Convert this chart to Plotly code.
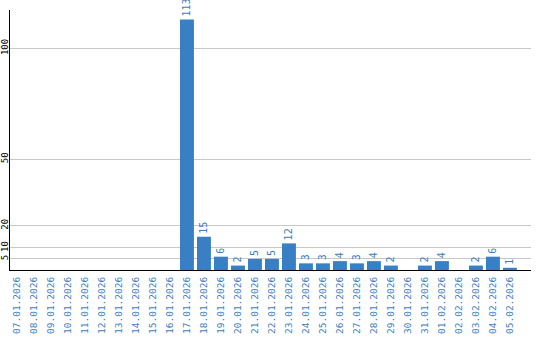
import plotly.graph_objects as go

dates = ["07.01.2026", "08.01.2026", "09.01.2026", "10.01.2026", "11.01.2026",
         "12.01.2026", "13.01.2026", "14.01.2026", "15.01.2026", "16.01.2026",
         "17.01.2026", "18.01.2026", "19.01.2026", "20.01.2026", "21.01.2026",
         "22.01.2026", "23.01.2026", "24.01.2026", "25.01.2026", "26.01.2026",
         "27.01.2026", "28.01.2026", "29.01.2026", "30.01.2026", "31.01.2026",
         "01.02.2026", "02.02.2026", "03.02.2026", "04.02.2026", "05.02.2026"]
counts = [0, 0, 0, 0, 0, 0, 0, 0, 0, 0,
          113, 15, 6, 2, 5, 5, 12, 3, 3, 4,
          3, 4, 2, 0, 2, 4, 0, 2, 6, 1]
y_ticks = [5, 10, 20, 50, 100]

BLUE = "#3a7ec4"
FONT = "DejaVu Sans Mono"

labels = [str(v) if v else "" for v in counts]

fig = go.Figure(go.Bar(
    x=list(range(len(dates))), y=counts,
    text=labels, textposition="outside", textangle=-90,
    textfont=dict(family=FONT, size=10, color=BLUE),
    marker=dict(color=BLUE, line=dict(width=0)),
    width=0.82, cliponaxis=False, constraintext="none",
))

fig.update_layout(
    width=540, height=340,
    margin=dict(l=10, r=9, t=10, b=70),
    paper_bgcolor="white", plot_bgcolor="white",
    showlegend=False,
    uniformtext=dict(mode=False),
)
fig.update_xaxes(
    range=[-0.41, 30.24],
    tickmode="array", tickvals=list(range(len(dates))), ticktext=dates,
    tickangle=-90, tickfont=dict(family=FONT, size=9.5, color=BLUE),
    showgrid=False, showline=True, linecolor="black", linewidth=1,
    ticks="", automargin=False, zeroline=False, ticklabelstandoff=2,
)
fig.update_yaxes(
    range=[0, 117.3],
    tickmode="array", tickvals=y_ticks, ticktext=[str(t) for t in y_ticks],
    tickangle=-90, tickfont=dict(family=FONT, size=9, color="black"),
    showgrid=True, gridcolor="#c8c8c8", gridwidth=1,
    showline=True, linecolor="black", linewidth=1,
    ticks="", automargin=False, zeroline=False, ticklabelstandoff=-3,
)

fig.write_html("out.html")
